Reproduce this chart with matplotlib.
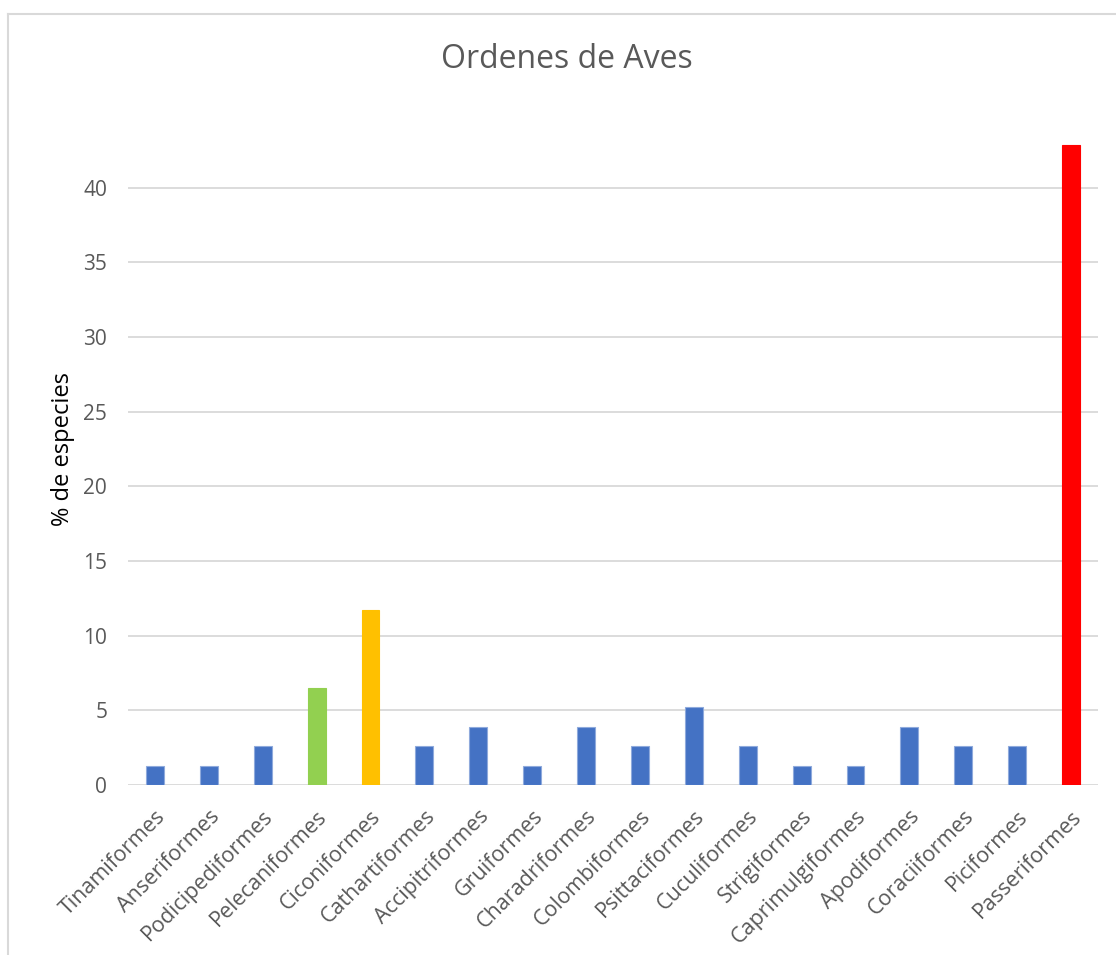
import matplotlib
matplotlib.use("Agg")
import matplotlib.pyplot as plt
from matplotlib.lines import Line2D

# Orders of birds and the share of species in each (%)
orders = ["Tinamiformes", "Anseriformes", "Podicipediformes", "Pelecaniformes",
          "Ciconiformes", "Cathartiformes", "Accipitriformes", "Gruiformes",
          "Charadriformes", "Colombiformes", "Psittaciformes", "Cuculiformes",
          "Strigiformes", "Caprimulgiformes", "Apodiformes", "Coraciiformes",
          "Piciformes", "Passeriformes"]
percent = [1.30, 1.30, 2.60, 6.49, 11.69, 2.60, 3.90, 1.30, 3.90, 2.60,
           5.19, 2.60, 1.30, 1.30, 3.90, 2.60, 2.60, 42.86]
y_ticks = [0, 5, 10, 15, 20, 25, 30, 35, 40]

BLUE = "#4472C4"
highlight = {"Pelecaniformes": "#92D050", "Ciconiformes": "#FFC000",
             "Passeriformes": "#FF0000"}
TEXT = "#595959"
GRID = "#D9D9D9"

plt.rcParams["font.family"] = ["Open Sans", "DejaVu Sans"]

fig = plt.figure(figsize=(11.16, 9.55), dpi=100)
ax = fig.add_axes([128 / 1116, 1 - 785 / 955, (1098 - 128) / 1116, (785 - 113) / 955])

colors = [highlight.get(o, BLUE) for o in orders]
edges = ["#8FAADC" if c == BLUE else c for c in colors]
x = range(len(orders))
ax.bar(x, percent, width=0.33, color=colors, edgecolor=edges, linewidth=0.8, zorder=3)

ax.set_xlim(-0.5, len(orders) - 0.5)
ax.set_ylim(0, 45)
ax.set_yticks(y_ticks)
ax.set_yticklabels([str(t) for t in y_ticks], fontsize=15, color=TEXT)
ax.set_xticks(list(x))
ax.set_xticklabels(orders, rotation=45, ha="right", rotation_mode="anchor",
                   fontsize=15.5, color=TEXT)
ax.tick_params(axis="both", length=0)
ax.tick_params(axis="x", pad=15)
ax.tick_params(axis="y", pad=15)

ax.grid(axis="y", color=GRID, linewidth=1.3, zorder=0)
for side in ax.spines.values():
    side.set_visible(False)

ax.set_ylabel("% de especies", fontsize=17, color="#000000", labelpad=6)
fig.text(567 / 1116, 1 - 59 / 955, "Ordenes de Aves", fontsize=23, color=TEXT,
         ha="center", va="center")

# chart frame (only left and top edges visible in the cropped image)
fig.add_artist(Line2D([8 / 1116, 8 / 1116], [0, 1 - 14 / 955],
                      transform=fig.transFigure, color=GRID, linewidth=1.5))
fig.add_artist(Line2D([8 / 1116, 1], [1 - 14 / 955, 1 - 14 / 955],
                      transform=fig.transFigure, color=GRID, linewidth=1.5))

fig.savefig("out.png", dpi=100, facecolor="white")
